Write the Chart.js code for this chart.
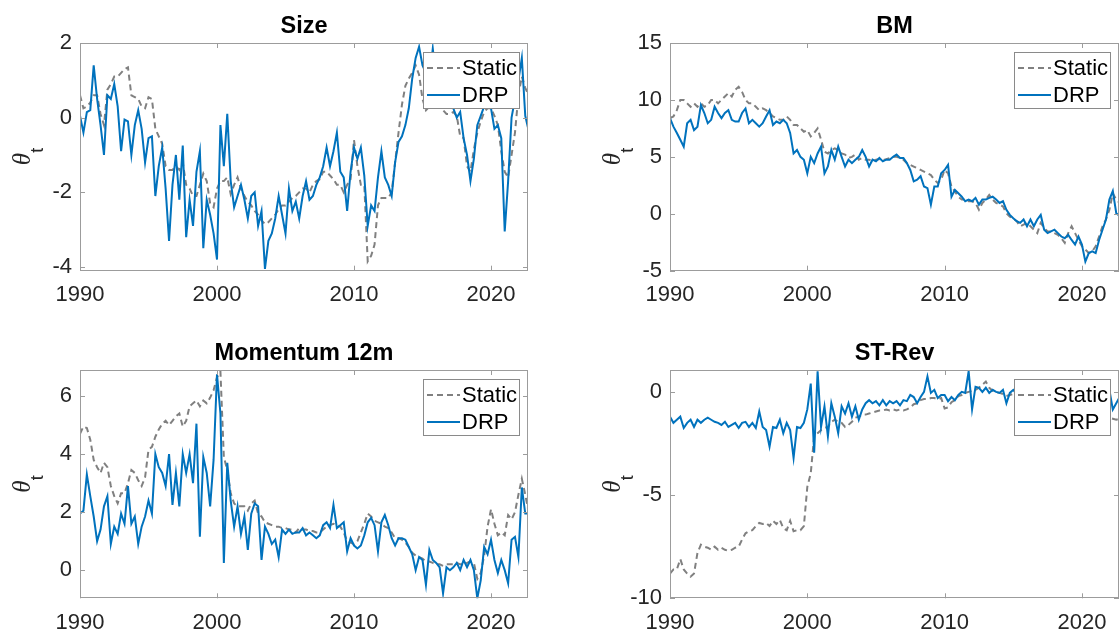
<!doctype html>
<html lang="en">

<head>
    <meta charset="utf-8" />
    <title>Theta paths</title>
    <script src="https://cdn.jsdelivr.net/npm/chart.js"></script>
    <style>
        body { margin: 0; background: #fff; }
        #page { position: relative; width: 1120px; height: 639px; overflow: hidden; }
        canvas { position: absolute; }
    </style>
</head>

<body>
    <div id="page">
        <canvas id="chartSize" width="560" height="320" style="left:0;top:0"></canvas>
        <canvas id="chartBM" width="560" height="320" style="left:560px;top:0"></canvas>
        <canvas id="chartMom" width="560" height="319" style="left:0;top:320px"></canvas>
        <canvas id="chartRev" width="560" height="319" style="left:560px;top:320px"></canvas>
    </div>
    <script>
        // quarterly observations, 1990Q1 .. 2022Q4
        const quarters = Array.from({ length: 132 }, (_, i) => 1990 + i / 4);
        const xTicks = [1990, 2000, 2010, 2020];

        const sizeDrp = [
            0.05, -0.4, 0.15, 0.2, 1.4, 0.5, -0.2, -1.0, 0.6, 0.5, 0.9, 0.3, -0.9, -0.05, -0.1, -1.0,
            -0.2, 0.2, -0.3, -1.2, -0.55, -0.5, -2.1, -1.3, -0.8, -1.9, -3.3, -1.8, -1.0, -2.2, -0.75, -3.2,
            -2.2, -2.9, -1.45, -0.9, -3.5, -2.2, -2.6, -3.1, -3.8, -0.2, -1.3, 0.1, -1.7, -2.4, -2.1, -1.8,
            -2.2, -2.7, -2.1, -2.0, -2.9, -2.5, -4.05, -3.3, -3.1, -2.7, -2.1, -2.6, -3.1, -1.9, -2.5, -2.25,
            -2.7, -2.1, -1.7, -2.2, -2.1, -1.8, -1.6, -1.3, -0.8, -1.3, -0.9, -0.4, -1.45, -1.6, -2.5, -1.45,
            -0.8, -1.1, -0.8, -1.55, -2.9, -2.35, -2.5, -1.6, -0.9, -1.6, -1.8, -2.1, -1.2, -0.65, -0.5, -0.2,
            0.25, 1.05, 1.6, 1.9, 1.4, 1.2, 1.0, 1.85, 1.0, 0.6, 0.5, 0.4, 0.3, 0.25, 0.0, 0.15,
            -0.55, -1.0, -1.7, -1.1, -0.2, 0.05, 0.3, 0.7, 0.25, -0.3, -0.2, -0.55, -3.05, -1.7, 0.0, 0.5,
            1.0, 1.6, 0.05, -0.35
        ];
        const sizeStatic = [
            0.6, 0.25, 0.3, 0.4, 0.6, 0.6, 0.1, -0.2, 0.75, 0.9, 1.1, 1.1, 1.2, 1.3, 1.35, 0.6,
            0.55, 0.5, 0.3, 0.25, 0.55, 0.5, -0.3, -0.5, -0.7, -1.3, -1.4, -1.4, -1.3, -1.4, -1.2, -1.8,
            -1.9, -2.1, -2.1, -1.8, -1.5, -1.7, -2.3, -2.4, -1.9, -1.7, -1.7, -1.6, -2.05, -1.8, -1.6, -1.9,
            -2.1, -2.25, -2.35, -2.5, -2.6, -2.75, -2.85, -2.8, -2.7, -2.6, -2.45, -2.35, -2.35, -2.25, -2.15, -2.1,
            -2.0, -1.9, -1.9, -2.0, -1.8, -1.7, -1.65, -1.45, -1.45, -1.55, -1.65, -1.8, -1.8, -2.0, -1.8, -1.65,
            -0.6, -1.3, -1.8, -1.8, -3.85, -3.7, -3.4, -2.35, -2.15, -2.15, -2.15, -2.0, -1.2, -0.4, 0.35, 0.85,
            1.05, 1.2, 1.4, 1.15, 0.5, 0.2, 0.3, 0.5, 0.4, 0.3, 0.2, 0.1, 0.1, 0.15, 0.05, -0.5,
            -0.55, -1.3, -1.45, -0.85, -0.4, -0.1, 0.15, 0.25, 0.25, 0.05, -0.2, -0.9, -1.45, -1.6, -1.0, -0.4,
            0.6, 1.1, 0.8, 0.6
        ];

        const bmDrp = [
            8.4, 7.65, 7.1, 6.5, 5.9, 7.95, 8.25, 7.35, 7.65, 9.55, 8.85, 7.95, 8.25, 9.4, 8.85, 8.4,
            8.85, 9.1, 8.25, 8.1, 8.1, 8.85, 9.25, 7.95, 8.25, 7.95, 7.65, 7.95, 8.55, 9.1, 7.8, 8.1,
            7.95, 8.25, 7.95, 7.1, 5.3, 5.6, 5.0, 4.75, 3.55, 5.0, 4.45, 5.3, 5.9, 3.55, 4.15, 5.6,
            4.75, 5.9, 5.0, 4.15, 4.75, 4.45, 4.75, 5.0, 5.6, 5.0, 4.15, 4.75, 4.6, 4.9, 4.6, 4.75,
            4.75, 5.0, 5.2, 4.9, 4.9, 4.45, 3.85, 2.85, 3.0, 3.3, 2.4, 2.25, 0.8, 2.4, 2.4, 3.55,
            3.85, 4.3, 1.5, 2.1, 1.8, 1.5, 1.1, 1.25, 1.1, 1.4, 0.8, 1.25, 1.25, 1.4, 1.5, 1.25,
            0.95, 1.1, 0.35, -0.1, -0.4, -0.65, -0.8, -0.5, -1.1, -0.5, -1.1, -0.5, -0.1, -1.4, -1.7, -1.55,
            -1.4, -1.7, -2.0, -2.15, -1.85, -2.3, -2.7, -2.0, -2.7, -4.2, -3.45, -3.3, -3.45, -2.3, -1.4, -0.5,
            1.25, 2.0, 0.05, -0.2
        ];
        const bmStatic = [
            8.4, 8.55, 9.1, 10.0, 10.0, 9.7, 9.4, 9.7, 9.4, 9.7, 9.4, 9.55, 10.0, 10.0, 9.7, 10.0,
            10.3, 10.6, 10.3, 10.9, 11.15, 10.7, 10.0, 9.7, 9.7, 9.4, 9.1, 9.25, 9.1, 8.85, 8.55, 8.4,
            8.25, 8.25, 8.55, 8.25, 7.8, 7.8, 7.5, 7.2, 7.35, 6.8, 7.1, 7.5, 6.5, 5.45, 5.3, 5.6,
            5.75, 5.6, 5.3, 5.2, 4.9, 5.0, 5.2, 4.75, 4.9, 4.75, 4.75, 4.6, 4.75, 4.8, 4.7, 4.8,
            4.9, 5.0, 5.0, 4.9, 4.75, 4.45, 4.3, 4.15, 4.0, 3.85, 3.7, 3.55, 3.4, 3.0, 2.7, 3.0,
            3.85, 3.55, 2.4, 1.95, 1.5, 1.25, 1.25, 1.1, 1.1, 0.95, 0.35, 0.95, 1.25, 1.65, 1.25, 0.95,
            0.8, 0.65, 0.05, -0.25, -0.4, -0.65, -1.1, -0.95, -0.8, -1.1, -1.4, -1.7, -0.8, -1.25, -1.55, -1.55,
            -1.7, -1.85, -2.15, -2.55, -1.7, -1.1, -1.7, -2.3, -2.85, -3.15, -3.45, -3.3, -2.85, -2.0, -1.1, -0.5,
            0.35, 1.8, 1.25, 0.95
        ];

        const momDrp = [
            1.95, 2.05, 3.3, 2.55, 1.85, 1.0, 1.4, 2.2, 2.55, 0.9, 1.5, 1.25, 1.95, 1.6, 2.9, 1.6,
            1.85, 0.9, 1.5, 1.85, 2.4, 1.95, 4.0, 3.55, 3.35, 2.9, 4.0, 2.25, 3.35, 2.2, 4.0, 3.35,
            4.0, 3.0, 5.05, 1.15, 3.9, 3.35, 2.2, 3.8, 6.75, 5.4, 0.25, 3.7, 2.4, 1.5, 2.2, 1.25,
            1.85, 0.7, 1.95, 2.3, 2.2, 0.35, 1.5, 1.25, 0.9, 1.05, 0.45, 1.4, 1.25, 1.4, 1.25, 1.3,
            1.3, 1.45, 1.2, 1.3, 1.2, 1.1, 1.2, 1.55, 1.65, 1.45, 2.25, 1.45, 1.55, 1.65, 0.65, 1.1,
            0.85, 0.75, 0.85, 1.2, 1.65, 1.8, 1.55, 0.65, 1.65, 1.9, 1.55, 1.1, 0.85, 1.1, 1.1, 1.05,
            0.8, 0.55, 0.0, 0.45, 0.35, -0.5, 0.7, 0.35, 0.25, 0.1, -0.8, 0.1, 0.0, 0.1, 0.25, 0.0,
            0.35, 0.1, 0.35, 0.0, -0.97, -0.35, 0.8, 0.55, 1.05, 0.35, -0.1, 0.35, 0.0, -0.45, 1.05, 1.15,
            0.45, 2.85, 1.95, 1.95
        ];
        const momStatic = [
            4.7, 4.95, 4.9, 4.5, 3.8, 3.55, 3.35, 3.7, 3.55, 2.9, 2.55, 2.3, 2.65, 2.65, 3.0, 3.45,
            3.35, 3.1, 2.9, 3.2, 4.15, 4.25, 4.6, 4.85, 5.05, 5.15, 5.0, 5.15, 5.3, 5.4, 4.95, 5.15,
            5.65, 5.75, 5.85, 5.65, 5.85, 5.75, 5.95, 6.2, 6.65, 6.85, 3.9, 3.45, 2.65, 2.3, 2.2, 2.2,
            2.2, 2.05, 2.3, 2.4, 1.95, 1.85, 1.65, 1.6, 1.55, 1.5, 1.5, 1.45, 1.45, 1.4, 1.4, 1.3,
            1.45, 1.4, 1.4, 1.35, 1.35, 1.3, 1.3, 1.4, 1.5, 1.55, 1.6, 1.55, 1.5, 1.3, 1.0, 0.95,
            0.9, 1.0, 1.3, 1.6, 1.95, 1.85, 1.7, 1.65, 1.6, 1.5, 1.45, 1.3, 1.1, 1.1, 1.05, 0.95,
            0.8, 0.6, 0.5, 0.45, 0.4, 0.3, 0.3, 0.25, 0.2, 0.2, 0.15, 0.2, 0.2, 0.2, 0.25, 0.2,
            0.2, 0.25, 0.3, 0.25, -0.3, -0.1, 0.5, 1.5, 2.1, 1.6, 1.2, 1.3, 1.2, 1.9, 1.75, 2.0,
            2.6, 3.15, 2.6, 2.0
        ];

        const revDrp = [
            -1.2, -1.5, -1.35, -1.2, -1.75, -1.5, -1.35, -1.7, -1.35, -1.5, -1.35, -1.25, -1.35, -1.45, -1.5, -1.6,
            -1.45, -1.7, -1.6, -1.5, -1.75, -1.5, -1.45, -1.7, -1.5, -1.75, -0.95, -1.7, -1.85, -2.65, -1.7, -1.75,
            -1.35, -2.0, -1.5, -1.85, -3.2, -1.7, -1.75, -1.5, -0.85, 0.4, -2.95, 1.0, -1.7, -0.7, -2.15, -0.55,
            -1.2, -2.0, -0.7, -1.05, -0.55, -1.2, -0.7, -1.35, -0.85, -0.55, -0.4, -0.55, -0.45, -0.65, -0.4, -0.65,
            -0.45, -0.55, -0.45, -0.65, -0.4, -0.45, -0.15, -0.25, -0.55, -0.25, 0.0, 0.75, -0.05, 0.1, -0.3, -0.15,
            -0.15, -0.45, -0.25, -0.4, -0.15, 0.0, -0.05, 1.0, -0.85, 0.25, 0.2, 0.0, 0.2, -0.05, 0.1, 0.0,
            -0.05, 0.1, -0.55, -0.05, 0.1, -0.1, 0.0, -0.2, -0.1, 0.1, -0.1, 0.0, -0.2, -0.1, 0.0, -0.15,
            -0.2, -0.1, -0.3, -0.2, -0.4, -0.2, -0.1, -0.3, -0.5, -0.2, -0.3, -0.1, 0.0, -0.2, -0.1, -0.3,
            0.1, -0.85, -0.55, -0.25
        ];
        const revStatic = [
            -8.8, -8.6, -8.6, -8.1, -8.6, -8.8, -8.95, -8.8, -7.8, -7.4, -7.5, -7.55, -7.65, -7.5, -7.65, -7.55,
            -7.65, -7.7, -7.65, -7.55, -7.5, -7.15, -6.85, -6.75, -6.7, -6.5, -6.35, -6.4, -6.35, -6.5, -6.25, -6.4,
            -6.2, -6.6, -6.7, -6.25, -6.75, -6.7, -6.7, -6.5, -4.6, -3.95, -2.15, -2.0, -1.85, -1.75, -1.7, -1.45,
            -1.35, -1.45, -1.5, -1.7, -1.6, -1.45, -1.25, -1.2, -1.1, -1.1, -1.05, -1.0, -0.95, -0.9, -0.9, -0.85,
            -0.9, -0.85, -0.9, -0.85, -0.9, -0.85, -0.75, -0.6, -0.55, -0.4, -0.35, -0.35, -0.3, -0.3, -0.35, -0.3,
            -0.8, -0.75, -0.5, -0.4, -0.2, -0.15, -0.05, 0.0, 0.05, 0.1, 0.2, 0.35, 0.5, 0.2, 0.05, 0.0,
            -0.05, -0.1, -0.2, -0.15, -0.1, -0.2, -0.25, -0.3, -0.3, -0.35, -0.4, -0.4, -0.45, -0.5, -0.5, -0.55,
            -0.6, -0.6, -0.65, -0.7, -0.75, -0.8, -0.85, -0.9, -1.0, -1.05, -1.1, -1.1, -1.15, -1.2, -1.2, -1.25,
            -1.25, -1.3, -1.35, -1.3
        ];

        const AXIS_COLOR = '#9c9c9c';
        const TICK_COLOR = '#262626';
        const DRP_COLOR = '#0072BD';
        const STATIC_COLOR = '#808080';
        const DASH = [6, 4];
        const SANS = '"Liberation Sans", Arial, sans-serif';

        // MATLAB-like box, inward ticks, title, theta_t label and legend
        const matlabAxes = {
            id: 'matlabAxes',
            afterDatasetsDraw(chart, args, opts) {
                const { ctx, chartArea: a, scales } = chart;
                ctx.save();
                ctx.setLineDash([]);
                ctx.strokeStyle = AXIS_COLOR;
                ctx.lineWidth = 1;
                ctx.strokeRect(Math.round(a.left) + 0.5, Math.round(a.top) + 0.5,
                    Math.round(a.right) - Math.round(a.left) - 1, Math.round(a.bottom) - Math.round(a.top) - 1);
                ctx.beginPath();
                for (const t of scales.x.ticks) {
                    const px = Math.round(scales.x.getPixelForValue(t.value)) + 0.5;
                    ctx.moveTo(px, a.bottom); ctx.lineTo(px, a.bottom - 5);
                    ctx.moveTo(px, a.top); ctx.lineTo(px, a.top + 5);
                }
                for (const t of scales.y.ticks) {
                    const py = Math.round(scales.y.getPixelForValue(t.value)) + 0.5;
                    ctx.moveTo(a.left, py); ctx.lineTo(a.left + 5, py);
                    ctx.moveTo(a.right, py); ctx.lineTo(a.right - 5, py);
                }
                ctx.stroke();

                // legend box
                const bx = Math.round(a.right) - 9 - 96, by = Math.round(a.top) + 9;
                ctx.fillStyle = '#fff';
                ctx.fillRect(bx, by, 96, 56);
                ctx.strokeStyle = '#8a8a8a';
                ctx.strokeRect(bx + 0.5, by + 0.5, 96, 56);
                const rows = [
                    { label: 'Static', color: STATIC_COLOR, dash: DASH, y: by + 16 },
                    { label: 'DRP', color: DRP_COLOR, dash: [], y: by + 43 }
                ];
                for (const r of rows) {
                    ctx.beginPath();
                    ctx.strokeStyle = r.color;
                    ctx.lineWidth = 2;
                    ctx.setLineDash(r.dash);
                    ctx.moveTo(bx + 4, r.y); ctx.lineTo(bx + 37, r.y);
                    ctx.stroke();
                    ctx.fillStyle = '#000';
                    ctx.font = '22px ' + SANS;
                    ctx.textAlign = 'left';
                    ctx.textBaseline = 'middle';
                    ctx.fillText(r.label, bx + 39, r.y + 1);
                }
                ctx.setLineDash([]);

                // title
                ctx.fillStyle = '#000';
                ctx.font = 'bold 23.5px ' + SANS;
                ctx.textAlign = 'center';
                ctx.textBaseline = 'alphabetic';
                ctx.fillText(opts.title, (a.left + a.right) / 2, a.top - 10);

                // y label theta_t
                const cy = (a.top + a.bottom) / 2;
                ctx.translate(a.left - 50, cy);
                ctx.rotate(-Math.PI / 2);
                ctx.fillStyle = TICK_COLOR;
                ctx.textAlign = 'left';
                ctx.font = 'italic 25px "Liberation Serif", "Times New Roman", serif';
                ctx.fillText('θ', -8.5, 0);
                ctx.font = '18px ' + SANS;
                ctx.fillText('t', 4, 13);
                ctx.restore();
            }
        };

        function buildChart(id, title, drp, stat, yMin, yMax, yTicks, area) {
            const ctx = document.getElementById(id);
            return new Chart(ctx, {
                type: 'line',
                data: {
                    datasets: [
                        {
                            label: 'DRP',
                            data: quarters.map((x, i) => ({ x: x, y: drp[i] })),
                            borderColor: DRP_COLOR,
                            borderWidth: 2,
                            pointRadius: 0,
                            order: 0
                        },
                        {
                            label: 'Static',
                            data: quarters.map((x, i) => ({ x: x, y: stat[i] })),
                            borderColor: STATIC_COLOR,
                            borderWidth: 2,
                            borderDash: DASH,
                            pointRadius: 0,
                            order: 1
                        }
                    ]
                },
                options: {
                    responsive: false,
                    animation: false,
                    devicePixelRatio: 1,
                    layout: { padding: { left: 0, top: area.top, right: ctx.width - area.right, bottom: 0 } },
                    plugins: {
                        legend: { display: false },
                        tooltip: { enabled: false },
                        matlabAxes: { title: title }
                    },
                    scales: {
                        x: {
                            type: 'linear',
                            min: 1990,
                            max: 2022.7,
                            grid: { display: false, drawTicks: false },
                            border: { display: false },
                            afterBuildTicks: (s) => { s.ticks = xTicks.map(v => ({ value: v })); },
                            afterFit: (s) => { s.height = ctx.height - area.bottom; },
                            ticks: {
                                autoSkip: false,
                                maxRotation: 0,
                                padding: 11,
                                color: TICK_COLOR,
                                font: { family: SANS, size: 22 },
                                callback: (v) => String(v)
                            }
                        },
                        y: {
                            min: yMin,
                            max: yMax,
                            grid: { display: false, drawTicks: false },
                            border: { display: false },
                            afterBuildTicks: (s) => { s.ticks = yTicks.map(v => ({ value: v })); },
                            afterFit: (s) => { s.width = area.left; },
                            ticks: {
                                padding: 8,
                                color: TICK_COLOR,
                                font: { family: SANS, size: 22 },
                                callback: (v) => String(v)
                            }
                        }
                    }
                },
                plugins: [matlabAxes]
            });
        }

        buildChart('chartSize', 'Size', sizeDrp, sizeStatic, -4.1, 2, [-4, -2, 0, 2],
            { left: 80, top: 43, right: 528, bottom: 270.7 });
        buildChart('chartBM', 'BM', bmDrp, bmStatic, -5, 15, [-5, 0, 5, 10, 15],
            { left: 110, top: 43, right: 559, bottom: 270.7 });
        buildChart('chartMom', 'Momentum 12m', momDrp, momStatic, -0.97, 6.9, [0, 2, 4, 6],
            { left: 80, top: 50, right: 528, bottom: 278.3 });
        buildChart('chartRev', 'ST-Rev', revDrp, revStatic, -10, 1.06, [-10, -5, 0],
            { left: 110, top: 50, right: 559, bottom: 278.3 });
    </script>
</body>

</html>
